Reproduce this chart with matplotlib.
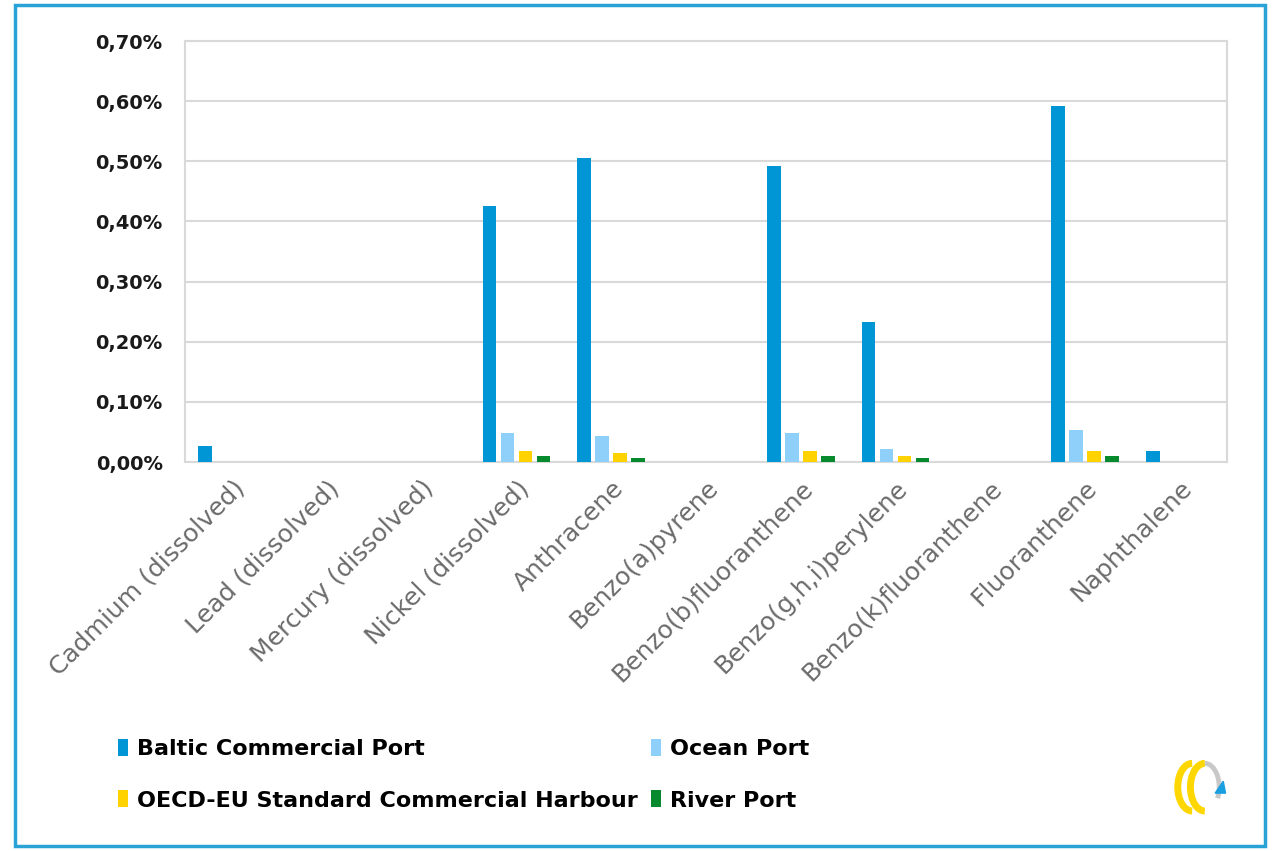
import numpy as np
import matplotlib.pyplot as plt
from matplotlib.ticker import FuncFormatter
from matplotlib.patches import Rectangle, Arc, Polygon

categories = ['Cadmium (dissolved)', 'Lead (dissolved)', 'Mercury (dissolved)',
              'Nickel (dissolved)', 'Anthracene', 'Benzo(a)pyrene',
              'Benzo(b)fluoranthene', 'Benzo(g,h,i)perylene', 'Benzo(k)fluoranthene',
              'Fluoranthene', 'Naphthalene']

# values in percent
baltic = [0.027, 0, 0, 0.426, 0.506, 0, 0.492, 0.233, 0, 0.592, 0.019]
ocean = [0, 0, 0, 0.049, 0.044, 0, 0.049, 0.022, 0, 0.053, 0]
oecd = [0, 0, 0, 0.019, 0.015, 0, 0.019, 0.010, 0, 0.019, 0]
river = [0, 0, 0, 0.010, 0.006, 0, 0.010, 0.006, 0, 0.010, 0]

series = [('Baltic Commercial Port', baltic, '#0096d6'),
          ('Ocean Port', ocean, '#8fd0fa'),
          ('OECD-EU Standard Commercial Harbour', oecd, '#ffd200'),
          ('River Port', river, '#078a2e')]

fig = plt.figure(figsize=(12.79, 8.51), dpi=100)
ax = fig.add_axes([0.1446, 0.4571, 0.8148, 0.4947])

x = np.arange(len(categories))
step = 0.19
width = 0.145
bars = []
for i, (name, vals, col) in enumerate(series):
    b = ax.bar(x + (i - 1.5) * step, vals, width, color=col, label=name, zorder=3)
    bars.append(b)

ax.set_xlim(-0.5, len(categories) - 0.5)
ax.set_ylim(0, 0.7)
ax.set_yticks(np.arange(0, 0.71, 0.1))
ax.yaxis.set_major_formatter(FuncFormatter(lambda v, p: ('%.2f%%' % v).replace('.', ',')))
ax.grid(axis='y', color='#d9d9d9', linewidth=1.5, zorder=0)
for s in ax.spines.values():
    s.set_color('#d9d9d9')
    s.set_linewidth(1.5)
ax.tick_params(axis='both', length=0)
ax.tick_params(axis='y', pad=16, labelsize=14, labelcolor='#1a1a1a')
for t in ax.get_yticklabels():
    t.set_fontweight('bold')
ax.set_xticks(x)
ax.set_xticklabels(categories, rotation=45, ha='right', rotation_mode='anchor',
                   fontsize=18, color='#6b6b6b')
ax.tick_params(axis='x', pad=10)

fig.legend([bars[0], bars[2], bars[1], bars[3]],
           [series[0][0], series[2][0], series[1][0], series[3][0]],
           ncol=2, loc='upper left', bbox_to_anchor=(0.077, 0.155),
           frameon=False, handlelength=0.45, handleheight=0.8, handletextpad=0.4,
           columnspacing=0.6, labelspacing=1.4,
           prop={'weight': 'bold', 'size': 16})

# outer frame
fig.patches.append(Rectangle((0.012, 0.006), 0.977, 0.988, transform=fig.transFigure,
                             fill=False, edgecolor='#29a3d6', linewidth=2.5))

# small logo
lax = fig.add_axes([0.915, 0.04, 0.045, 0.07])
lax.set_xlim(0, 1)
lax.set_ylim(0, 1)
lax.axis('off')
lax.add_patch(Arc((0.38, 0.5), 0.5, 0.8, theta1=90, theta2=270, color='#ffd700', linewidth=5))
lax.add_patch(Arc((0.6, 0.5), 0.5, 0.8, theta1=90, theta2=270, color='#ffd700', linewidth=5))
lax.add_patch(Arc((0.6, 0.5), 0.5, 0.8, theta1=-40, theta2=90, color='#c8c8c8', linewidth=3.5))
lax.add_patch(Polygon([[0.78, 0.4], [0.96, 0.4], [0.92, 0.6]], color='#1aa0e0'))

fig.savefig('out.png', dpi=100)
